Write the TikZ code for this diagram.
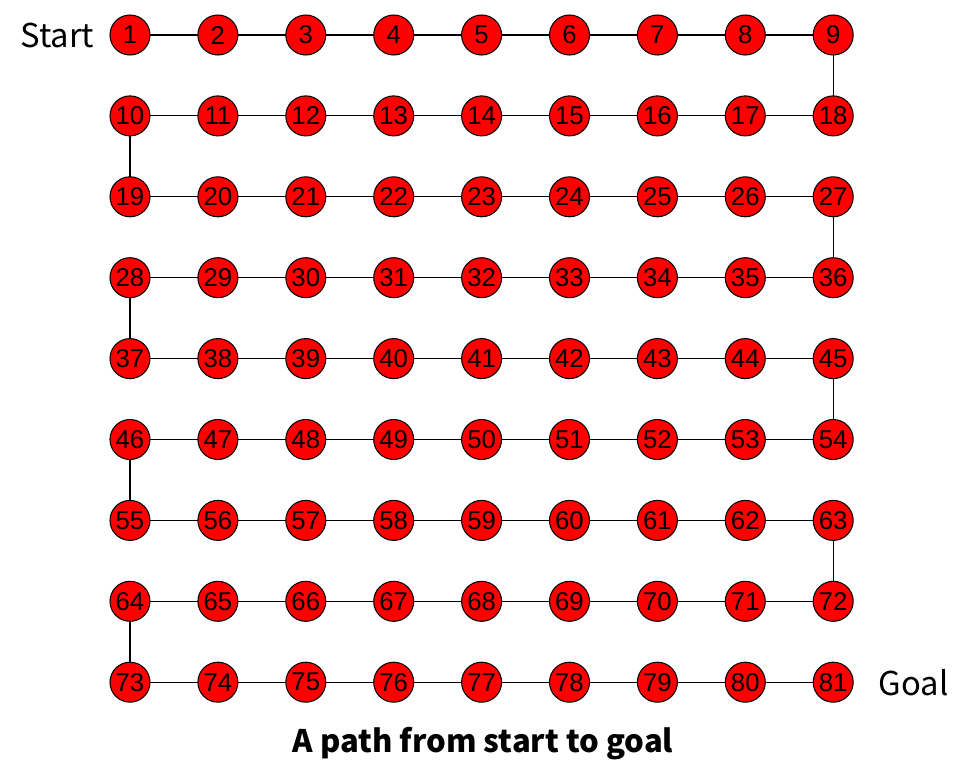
\documentclass[tikz,border=0pt]{standalone}
\usepackage{fontspec}
\setmainfont{Liberation Sans}
\newfontfamily\jpfont{Noto Sans CJK JP}
\usepackage{tikz}
\usetikzlibrary{positioning}

\tikzset{
  cell/.style={circle, draw=black, line width=0.9pt, fill=red, minimum size=1.2cm,
    inner sep=0pt, font=\fontsize{22}{22}\selectfont},
  tag/.style={font=\jpfont\fontsize{28}{28}\selectfont, inner sep=0pt},
  link/.style={line width=1pt}
}

\begin{document}
\begin{tikzpicture}[x=0.03cm, y=-0.03cm]
    \useasboundingbox (0,0) rectangle (966,772);

    % the 9x9 nodes
    \foreach \r in {0,...,8}{
      \foreach \c in {0,...,8}{
        \pgfmathtruncatemacro{\n}{9*\r+\c+1}
        \coordinate (p\n) at (130+87.9*\c, 35+80.9*\r);
      }
    }

    % horizontal links in every row
    \foreach \r in {0,...,8}{
      \foreach \c in {1,...,8}{
        \pgfmathtruncatemacro{\a}{9*\r+\c}
        \pgfmathtruncatemacro{\b}{\a+1}
        \draw[link] (p\a) -- (p\b);
      }
    }

    % vertical turns of the snake
    \foreach \a/\b in {9/18, 10/19, 27/36, 28/37, 45/54, 46/55, 63/72, 64/73}{
      \draw[link] (p\a) -- (p\b);
    }

    \foreach \n in {1,...,81}{
      \node[cell] (n\n) at (p\n) {\n};
    }

    \node[tag, left=0.45cm of n1] (start) {Start};
    \node[tag, right=0.75cm of n81] (goal) {Goal};
    \node[tag, font=\jpfont\bfseries\fontsize{26.5}{26.5}\selectfont] (caption) at (483,744) {A path from start to goal};
\end{tikzpicture}
\end{document}
